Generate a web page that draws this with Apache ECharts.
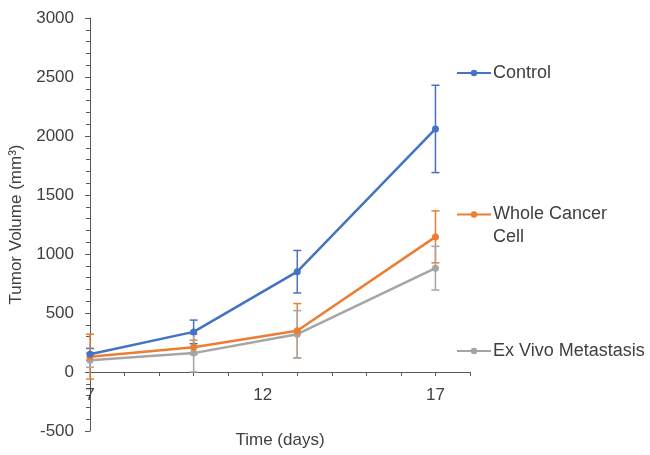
<!DOCTYPE html>
<html>
<head>
<meta charset="utf-8">
<script src="https://cdn.jsdelivr.net/npm/echarts@6/dist/echarts.min.js"></script>
<style>html,body{margin:0;padding:0;background:#fff}#c{width:650px;height:455px}</style>
</head>
<body>
<div id="c"></div>
<script>
var days = [7, 10, 13, 17];
var seriesNames = ['Control', 'Whole Cancer Cell', 'Ex Vivo Metastasis'];
var controlMean = [150, 340, 850, 2060];
var controlErr = [50, 100, 180, 370];
var wholeMean = [130, 210, 350, 1145];
var wholeErr = [190, 60, 230, 220];
var exVivoMean = [100, 160, 320, 880];
var exVivoErr = [60, 160, 200, 185];
var xTickLabels = [7, 12, 17];
var colors = ['#4472C4', '#ED7D31', '#A5A5A5'];

var means = [controlMean, wholeMean, exVivoMean];
var errs = [controlErr, wholeErr, exVivoErr];

var chart = echarts.init(document.getElementById('c'));
var txt = '#404040';
var font = 'Liberation Sans, Arial, sans-serif';
var fs = 17;
var lfs = 18;

var series = [];
seriesNames.forEach(function (name, i) {
  series.push({
    name: name,
    type: 'line',
    data: days.map(function (d, k) { return [d, means[i][k]]; }),
    symbol: 'circle',
    symbolSize: 7,
    lineStyle: { width: 2.5, color: colors[i] },
    itemStyle: { color: colors[i] },
    z: 3 + (2 - i),
    animation: false
  });
  series.push({
    name: name + ' error',
    type: 'custom',
    data: days.map(function (d, k) { return [d, means[i][k] - errs[i][k], means[i][k] + errs[i][k]]; }),
    renderItem: function (params, api) {
      var x = api.value(0);
      var lo = api.coord([x, api.value(1)]);
      var hi = api.coord([x, api.value(2)]);
      var w = 4;
      var st = { stroke: colors[i], lineWidth: 1.5 };
      return {
        type: 'group',
        children: [
          { type: 'line', shape: { x1: lo[0], y1: lo[1], x2: hi[0], y2: hi[1] }, style: st },
          { type: 'line', shape: { x1: lo[0] - w, y1: lo[1], x2: lo[0] + w, y2: lo[1] }, style: st },
          { type: 'line', shape: { x1: hi[0] - w, y1: hi[1], x2: hi[0] + w, y2: hi[1] }, style: st }
        ]
      };
    },
    z: 2,
    animation: false
  });
});

var legendTops = [64, 180, 342];
var legends = seriesNames.map(function (name, i) {
  var l = {
    data: [name],
    left: 456,
    top: legendTops[i],
    padding: 0,
    itemWidth: 34,
    itemHeight: 8,
    itemGap: 0,
    selectedMode: false,
    textStyle: { color: txt, fontSize: lfs, fontFamily: font, padding: [0, 0, 0, -3] }
  };
  if (i === 1) {
    l.formatter = function () { return '\nWhole Cancer\nCell'; };
    l.textStyle = { color: txt, fontSize: lfs, fontFamily: font, lineHeight: 23, padding: [0, 0, 0, -3] };
  }
  return l;
});

chart.setOption({
  animation: false,
  color: colors,
  legend: legends,
  grid: { left: 90, right: 180, top: 18, bottom: 24, containLabel: false, outerBoundsMode: 'none' },
  xAxis: {
    type: 'value',
    min: 7,
    max: 18,
    interval: 1,
    name: 'Time (days)',
    nameLocation: 'middle',
    nameGap: 1,
    nameTextStyle: { color: txt, fontSize: fs, fontFamily: font },
    axisLine: { onZero: true, lineStyle: { color: '#595959', width: 1 } },
    axisTick: { show: true, length: 4, lineStyle: { color: '#595959' } },
    splitLine: { show: false },
    axisLabel: {
      color: txt, fontSize: fs, fontFamily: font, margin: -44,
      formatter: function (v) { return xTickLabels.indexOf(v) >= 0 ? String(v) : ''; }
    }
  },
  yAxis: {
    type: 'value',
    min: -500,
    max: 3000,
    interval: 500,
    name: 'Tumor Volume (mm³)',
    nameLocation: 'middle',
    nameGap: 63,
    nameTextStyle: { color: txt, fontSize: fs, fontFamily: font },
    axisLine: { show: true, onZero: false, lineStyle: { color: '#595959', width: 1 } },
    axisTick: { show: true, length: 5, lineStyle: { color: '#595959' } },
    minorTick: { show: true, splitNumber: 5, length: 4, lineStyle: { color: '#595959' } },
    splitLine: { show: false },
    axisLabel: { color: txt, fontSize: fs, fontFamily: font, margin: 16, formatter: function (v) { return String(v); } }
  },
  series: series
});
</script>
</body>
</html>
